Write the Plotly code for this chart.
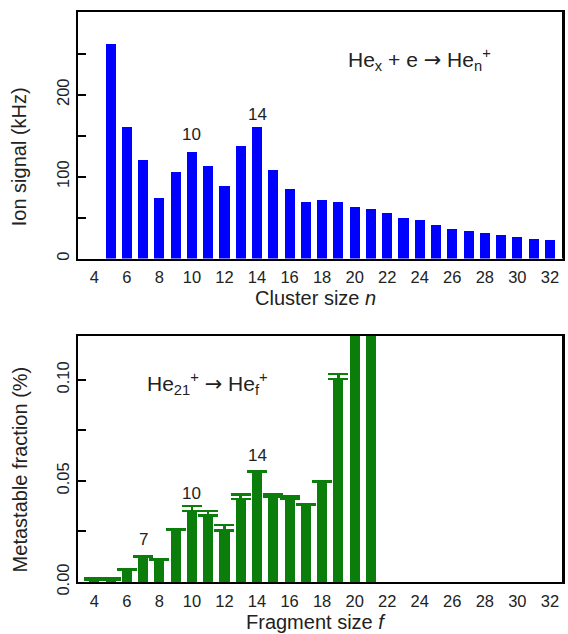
import plotly.graph_objects as go

# Top panel data
cluster_n = list(range(5, 33))
ion_signal = [262, 160, 120, 74, 106, 130, 113, 88, 137, 160, 108, 85,
              69, 71, 69, 63, 61, 55, 50, 47, 41, 36, 33.5, 31.5, 28.5, 26.5, 23.7, 22.2]

# Bottom panel data
fragment_f = list(range(4, 22))
metastable = [0.0012, 0.0012, 0.006, 0.0125, 0.011, 0.026, 0.035, 0.033, 0.0255,
              0.041, 0.0544, 0.042, 0.041, 0.038, 0.0494, 0.1003, 0.16, 0.16]
metastable_err = [0.0008, 0.0008, 0.0003, 0.0004, 0.0002, 0.0002, 0.0026, 0.002, 0.0027,
                  0.0023, 0.0003, 0.0013, 0.0013, 0.0003, 0.0003, 0.0025, 0, 0]

x_ticks = list(range(4, 33, 2))
top_yticks = [0, 50, 100, 150, 200, 250]
top_yticktext = ["0", "", "100", "", "200", ""]
bot_yticks = [0, 0.025, 0.05, 0.075, 0.10]
bot_yticktext = ["0.00", "", "0.05", "", "0.10"]

FONT = "Liberation Sans, Arial, Helvetica, sans-serif"
BLUE = "#0000FF"
GREEN = "#0A7D0A"
TXT = "#222"
ARROW = "<span style='font-family:DejaVu Sans'>→</span>"

fig = go.Figure()
fig.add_trace(go.Bar(x=cluster_n, y=ion_signal, width=0.62, marker=dict(color=BLUE, line=dict(width=0)),
                     xaxis="x", yaxis="y", showlegend=False))
fig.add_trace(go.Bar(x=fragment_f, y=metastable, width=0.62, marker=dict(color=GREEN, line=dict(width=0)),
                     error_y=dict(type="data", array=metastable_err, arrayminus=[0]*len(metastable_err),
                                  symmetric=False, color=GREEN, thickness=2.5, width=10),
                     xaxis="x2", yaxis="y2", showlegend=False))

axis_common = dict(showline=True, linecolor="black", linewidth=2, mirror=True,
                   showgrid=False, zeroline=False,
                   tickfont=dict(family=FONT, size=16.5, color=TXT))

R = 3
PW = 568 - 78 - R
XMAX = 3 + PW / 16.34

fig.update_layout(
    width=568, height=634,
    margin=dict(l=78, r=R, t=12, b=52),
    plot_bgcolor="white", paper_bgcolor="white",
    font=dict(family=FONT, color=TXT),
    bargap=0,
    xaxis=dict(domain=[0, 1], anchor="y", range=[3, XMAX], tickvals=x_ticks, ticks="",
               ticklabelstandoff=3, **axis_common),
    yaxis=dict(domain=[0.5675, 1], anchor="x", range=[0, 301], tickvals=top_yticks,
               ticktext=top_yticktext, ticks="inside", ticklen=8, tickwidth=2, tickcolor="black",
               tickangle=-90, **axis_common),
    xaxis2=dict(domain=[0, 1], anchor="y2", range=[3, XMAX], tickvals=x_ticks, ticks="",
                ticklabelstandoff=3, **axis_common),
    yaxis2=dict(domain=[0, 0.4316], anchor="x2", range=[0, 0.1217], tickvals=bot_yticks,
                ticktext=bot_yticktext, ticks="inside", ticklen=8, tickwidth=2, tickcolor="black",
                tickangle=-90, **axis_common),
    shapes=[
        dict(type="line", xref="paper", yref="paper", x0=1, x1=1, y0=0.5675, y1=1,
             line=dict(color="black", width=2)),
        dict(type="line", xref="paper", yref="paper", x0=1, x1=1, y0=0, y1=0.4316,
             line=dict(color="black", width=2)),
    ],
)

ann = []
# axis titles
ann.append(dict(text="Cluster size <i>n</i>", xref="paper", yref="paper", x=0.49, y=0.498,
                showarrow=False, font=dict(size=20, family=FONT, color=TXT), yanchor="middle"))
ann.append(dict(text="Fragment size <i>f</i>", xref="paper", yref="paper", x=0.49, y=-0.0702,
                showarrow=False, font=dict(size=20, family=FONT, color=TXT), yanchor="middle"))
ann.append(dict(text="Ion signal (kHz)", xref="paper", yref="paper", x=(19 - 78) / PW, y=0.7456,
                showarrow=False, textangle=-90, font=dict(size=20, family=FONT, color=TXT),
                xanchor="center", yanchor="middle"))
ann.append(dict(text="Metastable fraction (%)", xref="paper", yref="paper", x=(20 - 78) / PW, y=0.198,
                showarrow=False, textangle=-90, font=dict(size=20, family=FONT, color=TXT),
                xanchor="center", yanchor="middle"))
# formulas
ann.append(dict(text="He<sub>x</sub> + e " + ARROW + " He<sub>n</sub><sup>+</sup>", xref="x", yref="y",
                x=24.0, y=243, showarrow=False, font=dict(size=21, family=FONT, color=TXT), yanchor="middle"))
ann.append(dict(text="He<sub>21</sub><sup>+</sup> " + ARROW + " He<sub>f</sub><sup>+</sup>", xref="x2", yref="y2",
                x=10.94, y=0.098, showarrow=False, font=dict(size=21, family=FONT, color=TXT),
                yanchor="middle"))
# peak labels
for xv, yv in [(10, 152), (14, 175.5)]:
    ann.append(dict(text=str(xv), xref="x", yref="y", x=xv, y=yv, showarrow=False,
                    font=dict(size=17, family=FONT, color=TXT), yanchor="middle"))
for xv, yv in [(7, 0.021), (10, 0.044), (14, 0.0626)]:
    ann.append(dict(text=str(xv), xref="x2", yref="y2", x=xv, y=yv, showarrow=False,
                    font=dict(size=17, family=FONT, color=TXT), yanchor="middle"))
fig.update_layout(annotations=ann)

fig.write_html("out.html", config={"displayModeBar": False},
               post_script="document.body.style.margin='0';document.body.style.overflow='hidden';")
